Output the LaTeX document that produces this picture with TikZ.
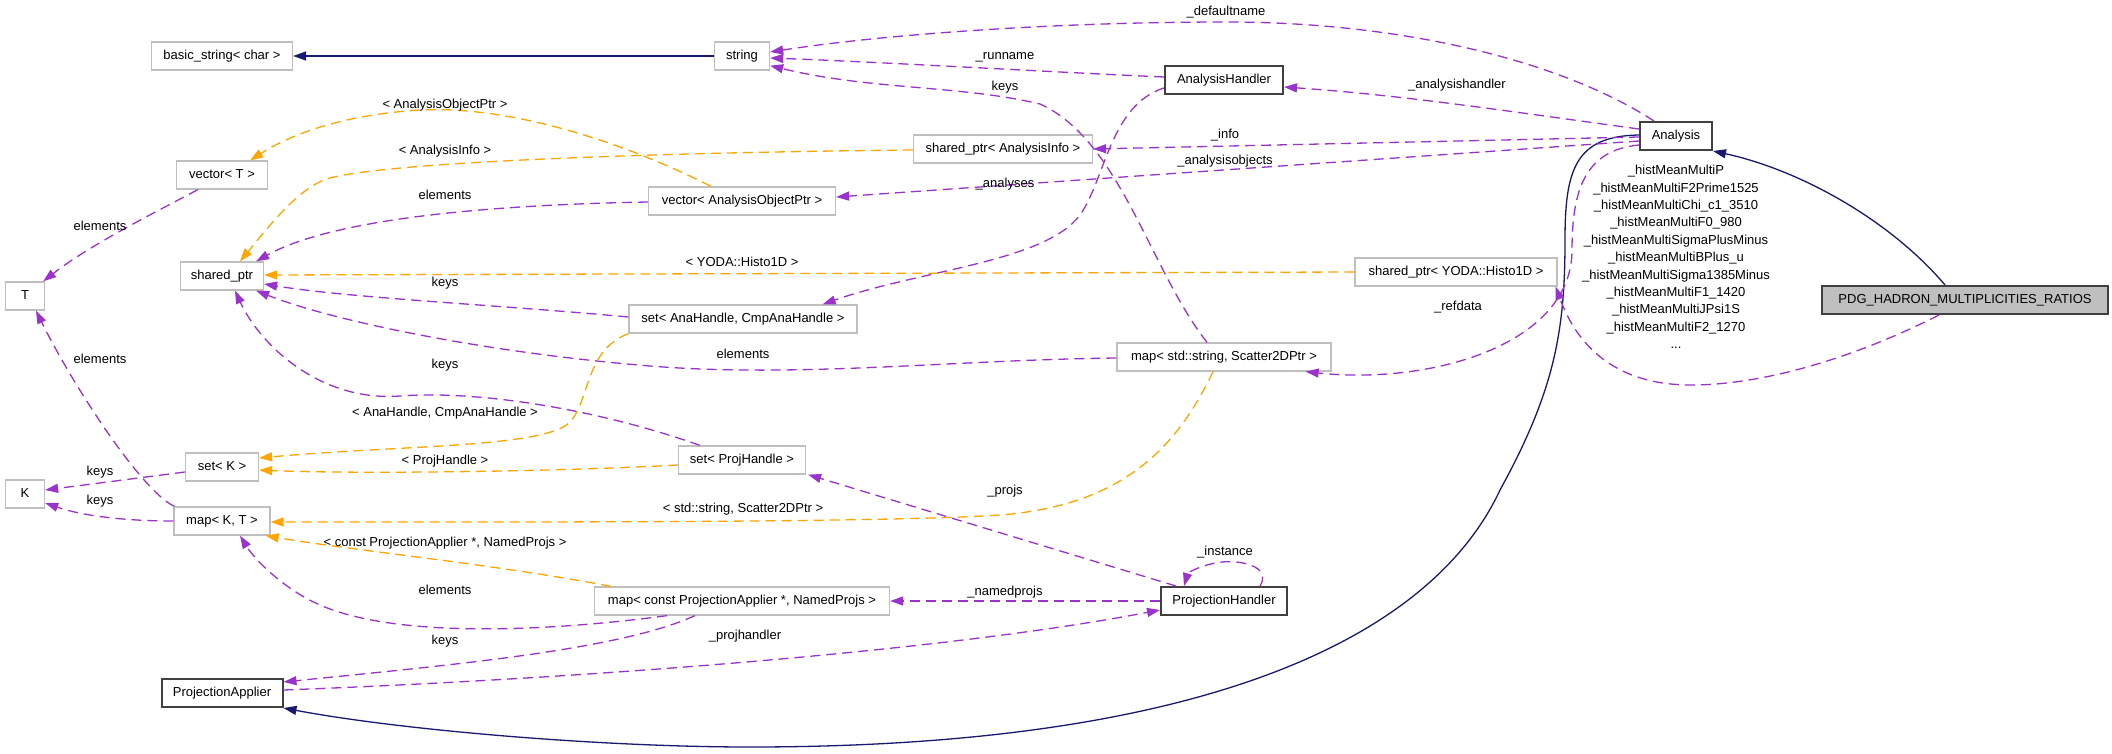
\documentclass[tikz,border=0pt]{standalone}
\usepackage{fontspec}
\setmainfont{Liberation Sans}
\usetikzlibrary{arrows.meta,calc}
\definecolor{usec}{HTML}{9A32CD}
\definecolor{tmplc}{HTML}{FFA500}
\definecolor{inhc}{HTML}{191970}
\definecolor{greyb}{HTML}{BFBFBF}
\begin{document}
\begin{tikzpicture}[x=1pt,y=-1pt,
 cls/.style={draw=greyb,line width=1.3pt,fill=white,minimum height=28pt,inner sep=0pt,text height=9.5pt,text depth=2.8pt,font=\fontsize{13}{15}\selectfont},
 docc/.style={cls,draw=black!75,line width=2pt},
 elab/.style={inner sep=0pt,font=\fontsize{13}{15}\selectfont,text height=9.5pt,text depth=2.8pt},
 lst/.style={inner sep=0pt,align=center,font=\fontsize{13}{17.4}\selectfont},
 tipA/.style={-{Triangle[length=13pt,width=9pt]}},
 usee/.style={tipA,usec,line width=1.3pt,dash pattern=on 10pt off 6pt},
 tmpl/.style={tipA,tmplc,line width=1.3pt,dash pattern=on 10pt off 6pt},
 inh/.style={tipA,inhc,line width=1.3pt}]
\fill[white] (0,0) rectangle (2112,753);
\useasboundingbox (0,0) rectangle (2112,753);

% nodes
\node[cls,minimum width=141pt] (bs) at (222,56) {basic\_string< char >};
\node[cls,minimum width=55pt] (str) at (742,56) {string};
\node[docc,minimum width=118pt] (ah) at (1224,80) {AnalysisHandler};
\node[docc,minimum width=72pt] (an) at (1676,136) {Analysis};
\node[cls,minimum width=179pt] (spai) at (1003,149) {shared\_ptr< AnalysisInfo >};
\node[cls,minimum width=91pt] (vT) at (222,175) {vector< T >};
\node[cls,minimum width=187pt] (vaop) at (742,201) {vector< AnalysisObjectPtr >};
\node[cls,minimum width=39pt] (T) at (25,296) {T};
\node[cls,minimum width=83pt] (sp) at (222,276) {shared\_ptr};
\node[cls,minimum width=202pt] (spy) at (1456,272) {shared\_ptr< YODA::Histo1D >};
\node[docc,fill=greyb,minimum width=286pt] (pdg) at (1965,300) {PDG\_HADRON\_MULTIPLICITIES\_RATIOS};
\node[cls,minimum width=228pt] (sah) at (743,319) {set< AnaHandle, CmpAnaHandle >};
\node[cls,minimum width=214pt] (mss) at (1224,357) {map< std::string, Scatter2DPtr >};
\node[cls,minimum width=73pt] (sK) at (222,467) {set< K >};
\node[cls,minimum width=127pt] (sph) at (742,460) {set< ProjHandle >};
\node[cls,minimum width=39pt] (K) at (25,494) {K};
\node[cls,minimum width=96pt] (mKT) at (222,521) {map< K, T >};
\node[cls,minimum width=295pt] (mcp) at (742,601) {map< const ProjectionApplier *, NamedProjs >};
\node[docc,minimum width=126pt] (ph) at (1224,601) {ProjectionHandler};
\node[docc,minimum width=121pt] (pa) at (222,693) {ProjectionApplier};

% inheritance
\draw[inh] (str.west) -- (bs.east);
\draw[inh] ($(pdg.north)+(-20,0)$) .. controls (1890,220) and (1800,170) .. (an.south east);
\draw[inh] ($(an.west)+(0,-1)$) .. controls (1575,136) and (1565,170) .. (1565,240) .. controls (1565,330) and (1555,390) .. (1500,490) .. controls (1430,640) and (1200,747) .. (750,747) .. controls (600,747) and (400,730) .. (pa.south east);

% usage
\draw[usee] ($(an.north west)+(15,0)$) .. controls (1560,60) and (1400,22) .. (1226,22) .. controls (1050,22) and (880,35) .. ($(str.east)+(0,-4)$);
\draw[usee] ($(ah.west)+(0,-3)$) .. controls (1050,72) and (880,62) .. ($(str.east)+(0,2)$);
\draw[usee] ($(mss.north)+(-17,0)$) .. controls (1150,270) and (1120,140) .. (1040,104) .. controls (960,85) and (870,90) .. ($(str.south east)+(0,-5)$);
\draw[usee] ($(an.west)+(0,-7)$) .. controls (1500,110) and (1400,95) .. ($(ah.east)+(0,7)$);
\draw[usee] ($(an.west)+(0,1)$) -- (spai.east);
\draw[usee] ($(an.west)+(0,5)$) -- ($(vaop.east)+(0,-4)$);
\draw[usee] ($(ah.west)+(0,8)$) .. controls (1110,105) and (1105,180) .. (1080,215) .. controls (1045,262) and (920,270) .. ($(sah.north east)+(-35,0)$);
\draw[usee] ($(an.west)+(0,9)$) .. controls (1585,150) and (1572,190) .. (1572,250) .. controls (1572,345) and (1430,385) .. ($(mss.south east)+(-26,0)$);
\draw[usee] ($(pdg.south)+(-26,0)$) .. controls (1850,360) and (1760,385) .. (1691,385) .. controls (1610,385) and (1575,340) .. ($(spy.south east)+(-2,0)$);
\draw[usee] ($(sah.west)+(0,-2)$) .. controls (500,305) and (350,298) .. ($(sp.east)+(0,8)$);
\draw[usee] ($(mss.west)+(0,1)$) .. controls (950,360) and (800,378) .. (650,366) .. controls (480,352) and (330,320) .. ($(sp.south east)+(-8,0)$);
\draw[usee] ($(sph.north west)+(22,0)$) .. controls (600,410) and (480,390) .. (400,396) .. controls (320,402) and (260,345) .. ($(sp.south)+(13,0)$);
\draw[usee] ($(vaop.west)+(0,1)$) .. controls (480,205) and (330,220) .. ($(sp.north east)+(-8,0)$);
\draw[usee] ($(vT.south west)+(22,0)$) .. controls (150,215) and (90,245) .. ($(T.north east)+(-2,0)$);
\draw[usee] ($(mKT.north west)+(1,0)$) .. controls (140,490) and (70,380) .. ($(T.south)+(11,0)$);
\draw[usee] ($(sK.west)+(0,5)$) -- ($(K.east)+(0,-4)$);
\draw[usee] (mKT.west) .. controls (120,521) and (80,515) .. ($(K.east)+(0,9)$);
\draw[usee] ($(mcp.south west)+(73,0)$) .. controls (560,630) and (400,640) .. (320,605) .. controls (285,590) and (255,560) .. ($(mKT.south)+(18,0)$);
\draw[usee] ($(mcp.south west)+(101,0)$) .. controls (620,650) and (450,665) .. ($(pa.north east)+(0,4)$);
\draw[usee] ($(pa.east)+(0,-3)$) .. controls (600,678) and (950,650) .. ($(ph.west)+(0,9)$);
\draw[usee] (ph.west) -- (mcp.east);
\draw[usee] ($(ph.north west)+(16,0)$) -- ($(sph.south east)+(2,0)$);
\draw[usee] ($(ph.north east)+(-28,0)$) .. controls (1272,566) and (1240,560) .. (1222,562) .. controls (1204,564) and (1188,572) .. ($(ph.north west)+(24,0)$);

% template
\draw[tmpl] ($(spai.west)+(0,1)$) .. controls (700,152) and (400,160) .. (330,178) .. controls (300,186) and (270,225) .. ($(sp.north)+(18,0)$);
\draw[tmpl] ($(vaop.north west)+(63,0)$) .. controls (640,150) and (520,105) .. (420,110) .. controls (340,115) and (290,135) .. ($(vT.north east)+(-18,0)$);
\draw[tmpl] (spy.west) -- ($(sp.east)+(0,-1)$);
\draw[tmpl] (sah.south west) .. controls (585,350) and (590,400) .. (570,422) .. controls (545,448) and (400,445) .. ($(sK.east)+(0,-9)$);
\draw[tmpl] ($(sph.west)+(0,5)$) .. controls (550,472) and (350,474) .. ($(sK.east)+(0,3)$);
\draw[tmpl] ($(mss.south)+(-11,0)$) .. controls (1180,440) and (1130,505) .. (1000,515) .. controls (880,523) and (500,522) .. ($(mKT.east)+(0,1)$);
\draw[tmpl] ($(mcp.north west)+(17,0)$) .. controls (500,565) and (350,550) .. ($(mKT.south east)+(-5,0)$);

% labels
\node[elab] (lDef) at (1226,12) {\_defaultname};
\node[elab] (lRun) at (1005,56) {\_runname};
\node[elab] (lKeysStr) at (1005,87) {keys};
\node[elab] (lAH) at (1457,85) {\_analysishandler};
\node[elab] (lInfo) at (1225,135) {\_info};
\node[elab] (lAO) at (1225,161) {\_analysisobjects};
\node[elab] (lAnal) at (1005,184) {\_analyses};
\node[elab] (lAOP) at (445,105) {< AnalysisObjectPtr >};
\node[elab] (lAI) at (445,151) {< AnalysisInfo >};
\node[elab] (lEl1) at (445,196) {elements};
\node[elab] (lEl2) at (100,227) {elements};
\node[elab] (lYoda) at (742,263) {< YODA::Histo1D >};
\node[elab] (lKeys1) at (445,283) {keys};
\node[elab] (lRef) at (1458,307) {\_refdata};
\node[elab] (lEl3) at (743,355) {elements};
\node[elab] (lEl4) at (100,360) {elements};
\node[elab] (lKeys2) at (445,365) {keys};
\node[elab] (lAna) at (445,413) {< AnaHandle, CmpAnaHandle >};
\node[elab] (lPH) at (445,461) {< ProjHandle >};
\node[elab] (lKeys3) at (100,472) {keys};
\node[elab] (lProjs) at (1005,491) {\_projs};
\node[elab] (lKeys4) at (100,501) {keys};
\node[elab] (lStd) at (743,509) {< std::string, Scatter2DPtr >};
\node[elab] (lConst) at (445,543) {< const ProjectionApplier *, NamedProjs >};
\node[elab] (lInst) at (1225,552) {\_instance};
\node[elab] (lEl5) at (445,591) {elements};
\node[elab] (lNamed) at (1005,592) {\_namedprojs};
\node[elab] (lProjH) at (745,636) {\_projhandler};
\node[elab] (lKeys5) at (445,641) {keys};
\node[lst] (lHist) at (1676,257) {\_histMeanMultiP\\\_histMeanMultiF2Prime1525\\\_histMeanMultiChi\_c1\_3510\\\_histMeanMultiF0\_980\\\_histMeanMultiSigmaPlusMinus\\\_histMeanMultiBPlus\_u\\\_histMeanMultiSigma1385Minus\\\_histMeanMultiF1\_1420\\\_histMeanMultiJPsi1S\\\_histMeanMultiF2\_1270\\...};
\end{tikzpicture}
\end{document}
